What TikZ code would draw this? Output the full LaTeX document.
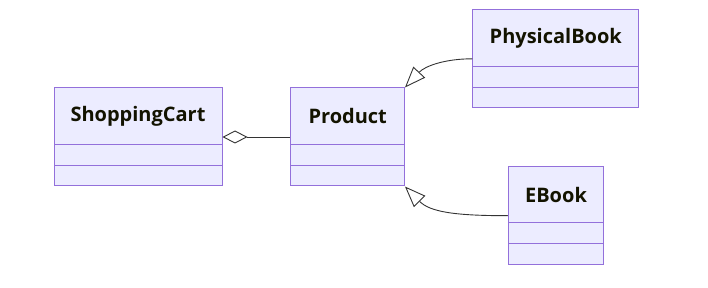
\documentclass[tikz,border=0pt]{standalone}
\usepackage{fontspec}
\setmainfont{Open Sans}
\usetikzlibrary{arrows.meta}
\definecolor{boxfill}{HTML}{ECECFF}
\definecolor{boxline}{HTML}{9370DB}
\definecolor{edge}{HTML}{333333}
\definecolor{txt}{HTML}{131300}
\tikzset{
  classbox/.style={draw=boxline, fill=boxfill, line width=1pt, inner sep=0pt, rectangle},
  divider/.style={draw=boxline, line width=1pt},
  title/.style={font=\fontsize{20}{24}\selectfont\bfseries, text=txt, inner sep=0pt},
  inherit/.style={draw=edge, line width=0.9pt, -{Triangle[open, length=21pt, width=16pt, fill=white]}},
  aggr/.style={draw=edge, line width=0.9pt, {Diamond[open, length=25pt, width=13pt, fill=white]}-},
}
\begin{document}
\begin{tikzpicture}[x=1pt, y=-1pt]
\useasboundingbox (0,0) rectangle (708,288);
% ShoppingCart
\node[classbox, minimum width=168pt, minimum height=98pt] (sc) at (138,137) {};
\node[title] (sct) at (138,116) {ShoppingCart};
\draw[divider] (54,144.3) -- (222,144.3) (54,165.7) -- (222,165.7);
% Product
\node[classbox, minimum width=113.5pt, minimum height=98pt] (prod) at (347.7,137) {};
\node[title] (prodt) at (347.7,116) {Product};
\draw[divider] (291,144.3) -- (404.5,144.3) (291,165.7) -- (404.5,165.7);
% PhysicalBook
\node[classbox, minimum width=166pt, minimum height=97.7pt] (pb) at (555.8,58.8) {};
\node[title] (pbt) at (555.8,38) {PhysicalBook};
\draw[divider] (472.8,66.3) -- (638.8,66.3) (472.8,87.3) -- (638.8,87.3);
% EBook
\node[classbox, minimum width=95.5pt, minimum height=98pt] (eb) at (556,215.7) {};
\node[title] (ebt) at (556,194.5) {EBook};
\draw[divider] (508.3,222) -- (603.8,222) (508.3,243.7) -- (603.8,243.7);
% connectors
\draw[aggr] (sc.east) -- (prod.west);
\draw[inherit] (pb.west) .. controls (445,58.8) and (425,66) .. (prod.north east);
\draw[inherit] (eb.west) .. controls (455,215.7) and (430,212) .. (prod.south east);
\end{tikzpicture}
\end{document}
